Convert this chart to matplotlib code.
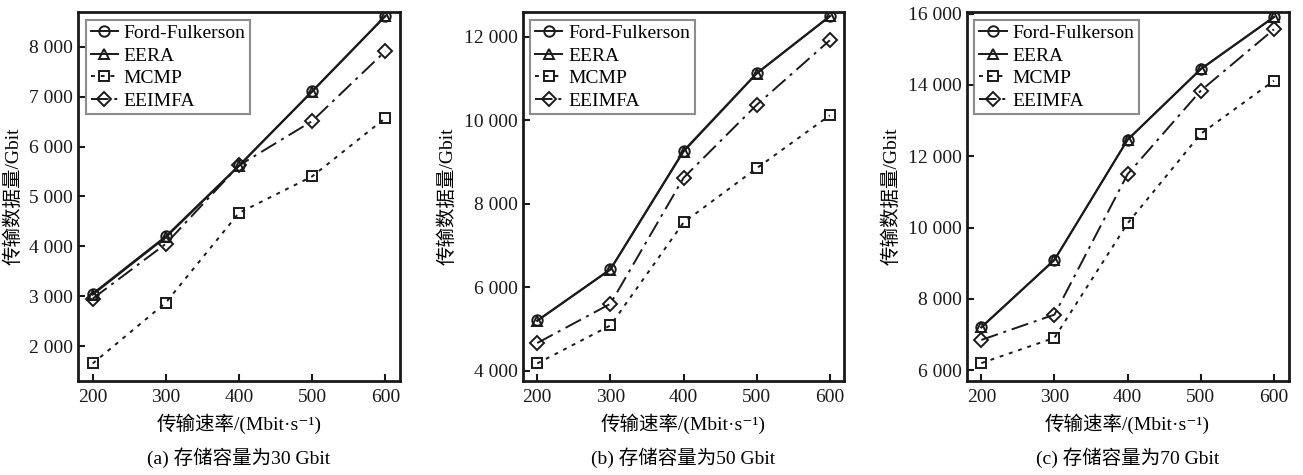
import matplotlib
matplotlib.use("Agg")
import matplotlib.pyplot as plt
from matplotlib.ticker import FuncFormatter, MultipleLocator

plt.rcParams['font.family'] = ['Liberation Serif', 'Noto Sans CJK SC', 'DejaVu Serif']

rates = [200, 300, 400, 500, 600]
methods = ["Ford-Fulkerson", "EERA", "MCMP", "EEIMFA"]

# (a) 30 Gbit
ff_30 = [3050, 4200, 5620, 7110, 8620]
eera_30 = [3030, 4180, 5610, 7100, 8610]
mcmp_30 = [1650, 2870, 4670, 5400, 6570]
eeimfa_30 = [2950, 4050, 5620, 6510, 7910]

# (b) 50 Gbit
ff_50 = [5200, 6430, 9270, 11130, 12500]
eera_50 = [5190, 6420, 9250, 11120, 12490]
mcmp_50 = [4170, 5080, 7550, 8850, 10120]
eeimfa_50 = [4660, 5600, 8620, 10370, 11920]

# (c) 70 Gbit
ff_70 = [7210, 9100, 12470, 14450, 15910]
eera_70 = [7200, 9090, 12460, 14440, 15900]
mcmp_70 = [6200, 6910, 10120, 12630, 14120]
eeimfa_70 = [6850, 7560, 11500, 13840, 15560]

panels = [
    ("(a) 存储容量为30 Gbit", [ff_30, eera_30, mcmp_30, eeimfa_30], (1300, 8700), 1000),
    ("(b) 存储容量为50 Gbit", [ff_50, eera_50, mcmp_50, eeimfa_50], (3750, 12600), 2000),
    ("(c) 存储容量为70 Gbit", [ff_70, eera_70, mcmp_70, eeimfa_70], (5700, 16050), 2000),
]

styles = [
    dict(marker="o", linestyle="-"),
    dict(marker="^", linestyle="-"),
    dict(marker="s", linestyle=(0, (2, 3))),
    dict(marker="D", linestyle=(0, (9, 3, 1.5, 3)), markersize=7.5),
]

ink = "#1a1a1a"


def thousands(v, pos):
    return f"{int(v):,}".replace(",", " ")


fig = plt.figure(figsize=(13.03, 4.75), dpi=100)
lefts = [0.0599, 0.4011, 0.7419]

for left, (title, series, ylim, ystep) in zip(lefts, panels):
    ax = fig.add_axes([left, 0.198, 0.247, 0.777])
    for name, vals, st in zip(methods, series, styles):
        kw = dict(color=ink, linewidth=1.4, markersize=7.5, markerfacecolor="none",
                  markeredgecolor=ink, markeredgewidth=1.4)
        kw.update(st)
        ax.plot(rates, vals, label=name, **kw)
    ax.set_xlim(180, 620)
    ax.set_ylim(*ylim)
    ax.xaxis.set_major_locator(MultipleLocator(100))
    ax.yaxis.set_major_locator(MultipleLocator(ystep))
    ax.yaxis.set_major_formatter(FuncFormatter(thousands))
    ax.tick_params(direction="in", length=5, width=1.5, labelsize=14, colors=ink)
    ax.tick_params(axis="x", pad=6)
    for sp in ax.spines.values():
        sp.set_linewidth(2)
        sp.set_color(ink)
    ax.set_xlabel("传输速率/(Mbit·s\u207b\u00b9)", fontsize=14, labelpad=5)
    ax.set_ylabel("传输数据量/Gbit", fontsize=14, labelpad=5)
    ax.text(0.5, -0.18, title, transform=ax.transAxes, ha="center", va="top", fontsize=14)
    leg = ax.legend(loc="upper left", fontsize=14, frameon=True, fancybox=False,
                    handlelength=1.4, handletextpad=0.3, borderpad=0.25,
                    labelspacing=0.25, borderaxespad=0.4)
    leg.get_frame().set_edgecolor("#707070")
    leg.get_frame().set_linewidth(1.5)

fig.savefig("out.png", dpi=100)
